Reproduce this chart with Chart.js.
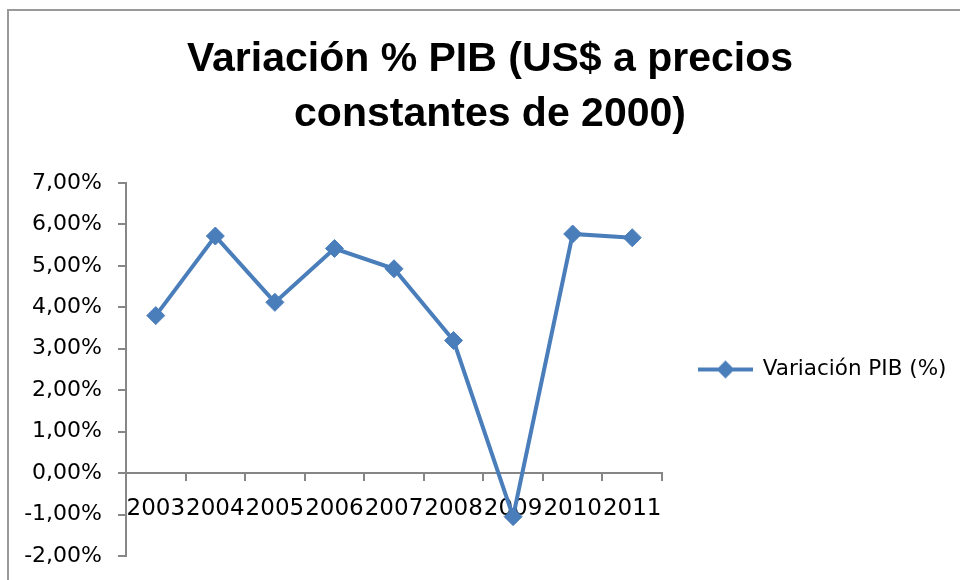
<!DOCTYPE html>
<html>
<head>
<meta charset="utf-8">
<script src="https://cdn.jsdelivr.net/npm/chart.js@4/dist/chart.umd.min.js"></script>
<style>
    html, body { margin: 0; padding: 0; background: #fff; }
    #wrap { position: relative; width: 960px; height: 580px; overflow: hidden; }
    #frame { position: absolute; left: 7px; top: 9px; width: 1000px; height: 1000px;
             border-left: 2px solid #9a9a9a; border-top: 2px solid #9a9a9a; pointer-events: none; }
</style>
</head>
<body>
<div id="wrap">
    <canvas id="pibChart" width="960" height="580"></canvas>
    <div id="frame"></div>
</div>
<script>
// Data
const years = ["2003", "2004", "2005", "2006", "2007", "2008", "2009", "2010", "2011"];
const pibVariation = [3.80, 5.72, 4.12, 5.42, 4.93, 3.20, -1.05, 5.77, 5.68]; // %
const seriesName = "Variación PIB (%)";
const titleLines = ["Variación % PIB (US$ a precios", "constantes de 2000)"];

const blue = "#4A7EBB";
const axisGrey = "#868686";

// Legend symbol: line with a diamond on it
function legendIcon() {
    const c = document.createElement("canvas");
    c.width = 55;
    c.height = 20;
    const g = c.getContext("2d");
    g.strokeStyle = blue;
    g.lineWidth = 4;
    g.beginPath();
    g.moveTo(0, 10);
    g.lineTo(55, 10);
    g.stroke();
    g.fillStyle = blue;
    g.beginPath();
    g.moveTo(27.5, 1);
    g.lineTo(36.5, 10);
    g.lineTo(27.5, 19);
    g.lineTo(18.5, 10);
    g.closePath();
    g.fill();
    return c;
}
const icon = legendIcon();

const ctx = document.getElementById("pibChart").getContext("2d");
new Chart(ctx, {
    type: "line",
    data: {
        labels: years,
        datasets: [{
            label: seriesName,
            data: pibVariation,
            borderColor: blue,
            backgroundColor: blue,
            borderWidth: 4,
            tension: 0,
            pointStyle: "rectRot",
            pointRadius: 9,
            pointHoverRadius: 9,
            pointBackgroundColor: blue,
            pointBorderColor: blue,
            pointBorderWidth: 1
        }]
    },
    options: {
        responsive: false,
        animation: false,
        layout: { padding: { left: 24, right: 4, top: 0, bottom: 24 } },
        plugins: {
            title: {
                display: true,
                text: titleLines,
                color: "#000",
                font: { family: "'Liberation Sans', Arial, sans-serif", size: 41, weight: "bold", lineHeight: 55 / 41 },
                padding: { top: 32, bottom: 41 }
            },
            legend: {
                position: "right",
                align: "center",
                fullSize: false,
                maxWidth: 294,
                labels: {
                    usePointStyle: true,
                    pointStyleWidth: 53,
                    padding: 37,
                    color: "#000",
                    font: { family: "'DejaVu Sans', sans-serif", size: 21.5 },
                    generateLabels: (chart) =>
                        Chart.defaults.plugins.legend.labels.generateLabels(chart).map(item => {
                            item.pointStyle = icon;
                            return item;
                        })
                }
            },
            tooltip: { enabled: false }
        },
        scales: {
            x: {
                type: "category",
                offset: true,
                position: { y: 0 },
                grid: {
                    offset: true,
                    drawOnChartArea: false,
                    drawTicks: true,
                    tickLength: 7,
                    color: axisGrey,
                    lineWidth: 2
                },
                border: { display: true, color: axisGrey, width: 2 },
                ticks: {
                    autoSkip: false,
                    maxRotation: 0,
                    minRotation: 0,
                    padding: 15,
                    color: "#000",
                    font: { family: "'DejaVu Sans', sans-serif", size: 23 }
                }
            },
            y: {
                min: -2,
                max: 7,
                afterFit: (scale) => {
                    scale.width = 102;
                    scale.paddingTop = 0;
                    scale.paddingBottom = 0;
                },
                grid: {
                    drawOnChartArea: false,
                    drawTicks: true,
                    tickLength: 8,
                    color: axisGrey,
                    lineWidth: 2
                },
                border: { display: true, color: axisGrey, width: 2 },
                ticks: {
                    stepSize: 1,
                    padding: 16,
                    color: "#000",
                    font: { family: "'DejaVu Sans', sans-serif", size: 22 },
                    callback: (v) => v.toFixed(2).replace(".", ",") + "%"
                }
            }
        }
    }
});
</script>
</body>
</html>
